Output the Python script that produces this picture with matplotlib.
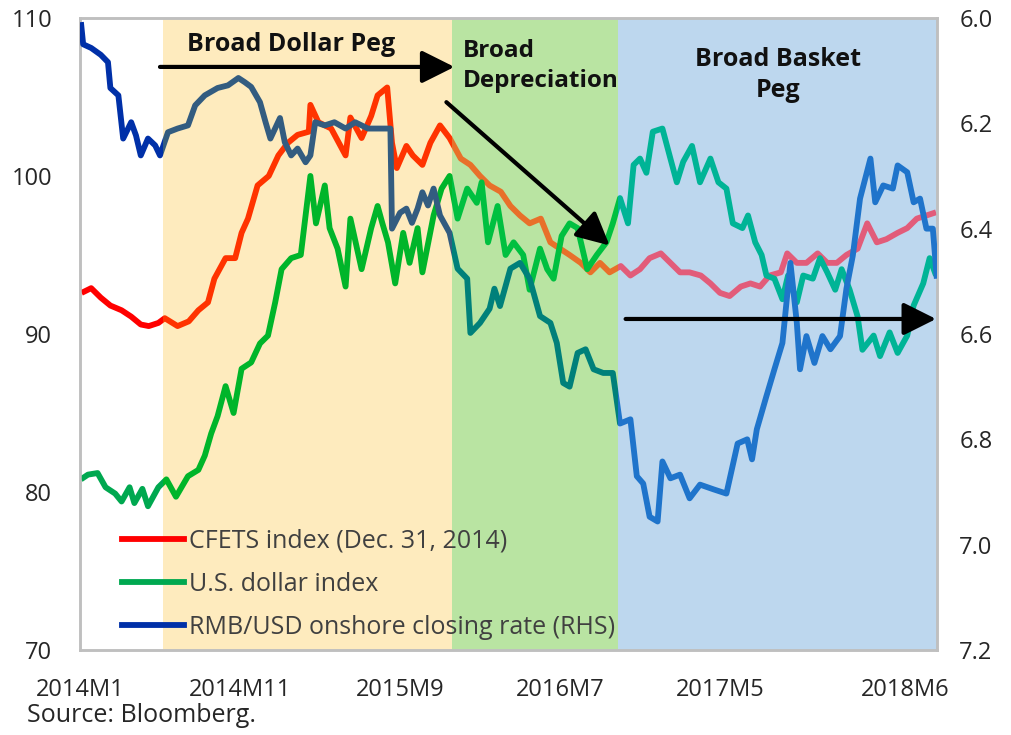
import matplotlib
matplotlib.use("Agg")
import matplotlib.pyplot as plt
import matplotlib.transforms as mtransforms
from matplotlib.patches import Rectangle
from matplotlib.lines import Line2D

plt.rcParams["font.family"] = ["Open Sans", "DejaVu Sans"]

# months since 2014M1
cfets_x = [0.1, 0.7, 1.3, 1.9, 2.6, 3.2, 3.8, 4.3, 4.9, 5.3, 6.1, 6.8, 7.4, 8.0, 8.4, 9.1,
           9.7, 10.1, 10.5, 11.1, 11.8, 12.4, 13.0, 13.6, 14.3, 14.4, 14.9, 15.7, 16.6, 16.9,
           17.6, 18.2, 18.6, 19.2, 19.5, 19.8, 20.4, 20.8, 21.4, 21.9, 22.5, 23.1, 23.8, 24.4,
           25.0, 25.6, 26.3, 26.9, 27.5, 28.1, 28.8, 29.4, 30.0, 30.6, 31.3, 31.9, 32.5, 33.1,
           33.8, 34.4, 35.0, 35.6, 36.3, 36.9, 37.5, 38.1, 38.8, 39.4, 40.0, 40.6, 41.3, 41.9,
           42.5, 43.1, 43.8, 44.2, 44.8, 45.4, 46.1, 46.7, 47.3, 47.9, 48.6, 49.2, 49.8, 50.4,
           51.1, 51.7, 52.3, 52.9, 53.5]
cfets = [92.6, 92.9, 92.3, 91.8, 91.5, 91.1, 90.6, 90.5, 90.7, 91.0, 90.5, 90.8, 91.5, 92.0,
         93.5, 94.8, 94.8, 96.4, 97.3, 99.4, 100.0, 101.3, 102.1, 102.6, 102.8, 104.5, 103.4,
         103.0, 101.3, 103.7, 102.4, 103.8, 105.1, 105.6, 102.1, 100.5, 101.9, 101.3, 100.7,
         102.1, 103.2, 102.4, 101.1, 100.7, 100.0, 99.4, 99.0, 98.1, 97.5, 97.0, 97.3, 95.8,
         95.4, 95.0, 94.5, 93.9, 94.5, 93.9, 94.3, 93.7, 94.1, 94.8, 95.1, 94.5, 93.9, 93.9,
         93.7, 93.2, 92.6, 92.4, 93.0, 93.2, 93.0, 93.7, 93.9, 95.1, 94.5, 94.5, 95.1, 94.5,
         94.5, 95.0, 95.4, 97.0, 95.8, 96.0, 96.4, 96.7, 97.3, 97.5, 97.7]

usd_x = [0.06, 0.5, 1.1, 1.6, 2.2, 2.6, 3.1, 3.4, 3.9, 4.25, 4.9, 5.4, 6.0, 6.75, 7.4, 7.8,
         8.2, 8.6, 9.1, 9.6, 10.1, 10.7, 11.25, 11.75, 12.2, 12.6, 13.2, 13.8, 14.4, 14.75,
         15.3, 15.6, 16.1, 16.6, 16.9, 17.6, 18.2, 18.6, 18.9, 19.25, 19.7, 20.2, 20.6, 21.1,
         21.4, 22.1, 22.6, 23.1, 23.6, 24.2, 24.8, 25.1, 25.5, 26.1, 26.6, 27.1, 27.7, 28.1,
         28.75, 29.2, 29.6, 30.1, 30.6, 31.1, 31.7, 32.3, 32.9, 33.3, 33.75, 34.25, 34.6, 35.0,
         35.4, 35.8, 36.4, 36.9, 37.3, 37.7, 38.25, 38.75, 39.4, 39.9, 40.4, 40.8, 41.4, 41.75,
         42.2, 42.6, 42.9, 43.4, 43.9, 44.25, 44.8, 45.2, 45.8, 46.25, 46.7, 47.2, 47.6, 48.1,
         48.6, 48.9, 49.6, 50.0, 50.6, 51.1, 51.7, 52.1, 52.7, 53.1, 53.5]
usd = [80.8, 81.1, 81.2, 80.3, 79.9, 79.4, 80.3, 79.3, 80.2, 79.1, 80.3, 80.8, 79.7, 81.0,
       81.4, 82.3, 83.7, 84.8, 86.7, 85.0, 87.8, 88.2, 89.4, 89.9, 92.0, 94.1, 94.8, 95.0,
       100.0, 97.0, 99.4, 96.7, 95.4, 93.0, 97.3, 94.1, 96.7, 98.1, 97.0, 95.8, 93.2, 96.4,
       94.5, 96.7, 93.9, 97.5, 99.2, 100.0, 97.3, 99.2, 98.3, 99.6, 95.8, 98.1, 95.0, 95.8,
       95.0, 92.8, 95.4, 94.1, 93.5, 96.2, 97.0, 96.7, 94.1, 95.0, 95.8, 97.0, 98.6, 97.0,
       100.7, 101.1, 100.2, 102.8, 103.0, 101.1, 99.6, 100.9, 101.9, 99.6, 101.1, 99.6, 99.2,
       97.0, 96.7, 97.5, 95.8, 95.0, 93.7, 93.5, 92.2, 93.7, 92.0, 93.7, 93.5, 94.8, 93.9,
       92.8, 94.1, 92.8, 91.1, 89.0, 89.9, 88.6, 90.1, 88.8, 89.9, 91.8, 93.2, 94.8, 93.7]

rmb_x = [0.06, 0.2, 0.7, 1.3, 1.75, 1.9, 2.4, 2.7, 3.2, 3.5, 3.8, 4.25, 4.7, 5.0, 5.5, 6.1,
         6.75, 7.2, 7.8, 8.6, 9.25, 9.9, 10.3, 10.7, 11.25, 11.6, 11.9, 12.5, 12.8, 13.2, 13.6,
         14.1, 14.4, 14.7, 15.3, 15.9, 16.6, 17.2, 18.0, 18.6, 19.4, 19.5, 20.0, 20.4, 20.75,
         21.1, 21.4, 21.75, 22.1, 22.5, 23.1, 23.6, 24.2, 24.4, 25.0, 25.6, 25.9, 26.25, 26.9,
         27.5, 28.1, 28.75, 29.4, 29.8, 30.2, 30.6, 31.1, 31.6, 32.1, 32.7, 33.3, 33.75, 34.4,
         34.8, 35.2, 35.6, 36.1, 36.4, 36.9, 37.5, 38.1, 38.75, 39.6, 40.4, 41.1, 41.7, 42.0,
         42.3, 42.9, 43.4, 43.9, 44.4, 44.8, 45.0, 45.4, 45.9, 46.4, 46.9, 47.5, 47.9, 48.3,
         48.75, 49.4, 49.7, 50.2, 50.8, 51.1, 51.7, 52.1, 52.5, 52.9, 53.3, 53.55]
rmb = [6.008, 6.05, 6.057, 6.07, 6.084, 6.133, 6.147, 6.229, 6.198, 6.223, 6.261, 6.229,
       6.242, 6.261, 6.217, 6.21, 6.204, 6.166, 6.147, 6.133, 6.128, 6.114, 6.122, 6.131,
       6.16, 6.198, 6.229, 6.19, 6.236, 6.261, 6.248, 6.274, 6.261, 6.198, 6.204, 6.198,
       6.21, 6.198, 6.21, 6.21, 6.21, 6.40, 6.37, 6.362, 6.389, 6.362, 6.331, 6.356, 6.324,
       6.375, 6.408, 6.476, 6.495, 6.598, 6.579, 6.552, 6.514, 6.547, 6.476, 6.465, 6.495,
       6.566, 6.579, 6.617, 6.693, 6.70, 6.636, 6.629, 6.667, 6.674, 6.674, 6.77, 6.762,
       6.87, 6.884, 6.947, 6.956, 6.842, 6.874, 6.867, 6.912, 6.886, 6.895, 6.903, 6.808,
       6.80, 6.838, 6.781, 6.718, 6.667, 6.617, 6.465, 6.579, 6.667, 6.604, 6.655, 6.604,
       6.629, 6.604, 6.514, 6.451, 6.343, 6.267, 6.35, 6.318, 6.324, 6.28, 6.293, 6.35,
       6.343, 6.40, 6.40, 6.495]

# regime boundaries (months since 2014M1)
edges = [0, 5.2, 23.25, 33.6, 53.56]
shade = [None, "#FEEBBE", "#B9E4A2", "#BDD7EE"]
cfets_col = ["#FF0000", "#FF3300", "#E8702A", "#E25C7A"]
usd_col = ["#00A850", "#00B52A", "#00C040", "#00B496"]
rmb_col = ["#0030A8", "#335C80", "#00807A", "#1F74CB"]

xticks = [0, 10, 20, 30, 40, 51.6]
xlabels = ["2014M1", "2014M11", "2015M9", "2016M7", "2017M5", "2018M6"]

fig = plt.figure(figsize=(10.11, 7.35), dpi=100)
ax = fig.add_axes([0.0791, 0.1156, 0.8477, 0.86])
ax2 = ax.twinx()

for i in range(1, 4):
    ax.axvspan(edges[i], edges[i + 1], color=shade[i], lw=0, zorder=0)


def seg_plot(axis, x, y, colors):
    # same series drawn once per regime, clipped to that regime's span
    trans = mtransforms.blended_transform_factory(axis.transData, axis.transAxes)
    for i in range(4):
        line, = axis.plot(x, y, color=colors[i], lw=4.2, solid_joinstyle="round",
                          solid_capstyle="butt", zorder=3)
        line.set_clip_path(Rectangle((edges[i], 0), edges[i + 1] - edges[i], 1,
                                     transform=trans))


seg_plot(ax, cfets_x, cfets, cfets_col)
seg_plot(ax, usd_x, usd, usd_col)
seg_plot(ax2, rmb_x, rmb, rmb_col)

ax.set_xlim(0, 53.56)
ax.set_ylim(70, 110)
ax2.set_ylim(7.2, 6.0)
ax.set_yticks([70, 80, 90, 100, 110])
ax2.set_yticks([6.0, 6.2, 6.4, 6.6, 6.8, 7.0, 7.2])
ax2.set_yticklabels(["%.1f" % v for v in [6.0, 6.2, 6.4, 6.6, 6.8, 7.0, 7.2]])
ax.set_xticks(xticks)
ax.set_xticklabels(xlabels)

ax.tick_params(axis="y", length=0, pad=20, labelsize=17, labelcolor="#262626")
ax.tick_params(axis="x", length=0, pad=20, labelsize=17, labelcolor="#262626")
ax2.tick_params(axis="y", length=0, pad=16, labelsize=17, labelcolor="#262626")
for a in (ax, ax2):
    for s in a.spines.values():
        s.set_color("#BFBFBF")
        s.set_linewidth(1.8)

# regime labels and arrows
ax.text(6.7, 108.3, "Broad Dollar Peg", fontsize=18, fontweight="bold",
        ha="left", va="center", color="#111111", zorder=5)
ax.text(23.9, 106.95, "Broad\nDepreciation", fontsize=17.5, fontweight="bold",
        ha="left", va="center", linespacing=1.3, color="#111111", zorder=5)
ax.text(43.6, 106.4, "Broad Basket\nPeg", fontsize=18, fontweight="bold",
        ha="center", va="center", linespacing=1.3, color="#111111", zorder=5)

arrow = dict(arrowstyle="-|>,head_length=0.8,head_width=0.4", lw=3, color="black",
             mutation_scale=25, shrinkA=0, shrinkB=0)
ax2.annotate("", xy=(23.4, 106.9), xytext=(5.0, 106.9), xycoords=ax.transData,
             textcoords=ax.transData, arrowprops=arrow, annotation_clip=False)
ax2.annotate("", xy=(33.1, 95.6), xytext=(22.9, 104.67), xycoords=ax.transData,
             textcoords=ax.transData, arrowprops=arrow, annotation_clip=False)
ax2.annotate("", xy=(53.5, 90.95), xytext=(34.1, 90.95), xycoords=ax.transData,
             textcoords=ax.transData, arrowprops=arrow, annotation_clip=False)

handles = [Line2D([], [], color=cfets_col[0], lw=4.2),
           Line2D([], [], color=usd_col[0], lw=4.2),
           Line2D([], [], color=rmb_col[0], lw=4.2)]
labels = ["CFETS index (Dec. 31, 2014)", "U.S. dollar index",
          "RMB/USD onshore closing rate (RHS)"]
leg = ax2.legend(handles, labels, loc="upper left", bbox_to_anchor=(0.049, 0.192),
                 frameon=False, fontsize=18, handlelength=2.5, handletextpad=0.2,
                 labelspacing=0.72, borderpad=0, borderaxespad=0)
for t in leg.get_texts():
    t.set_color("#404040")

fig.text(27 / 1011, 1 - 716 / 735, "Source: Bloomberg.", fontsize=18,
         ha="left", va="center", color="#262626")

fig.savefig("out.png", dpi=100)
